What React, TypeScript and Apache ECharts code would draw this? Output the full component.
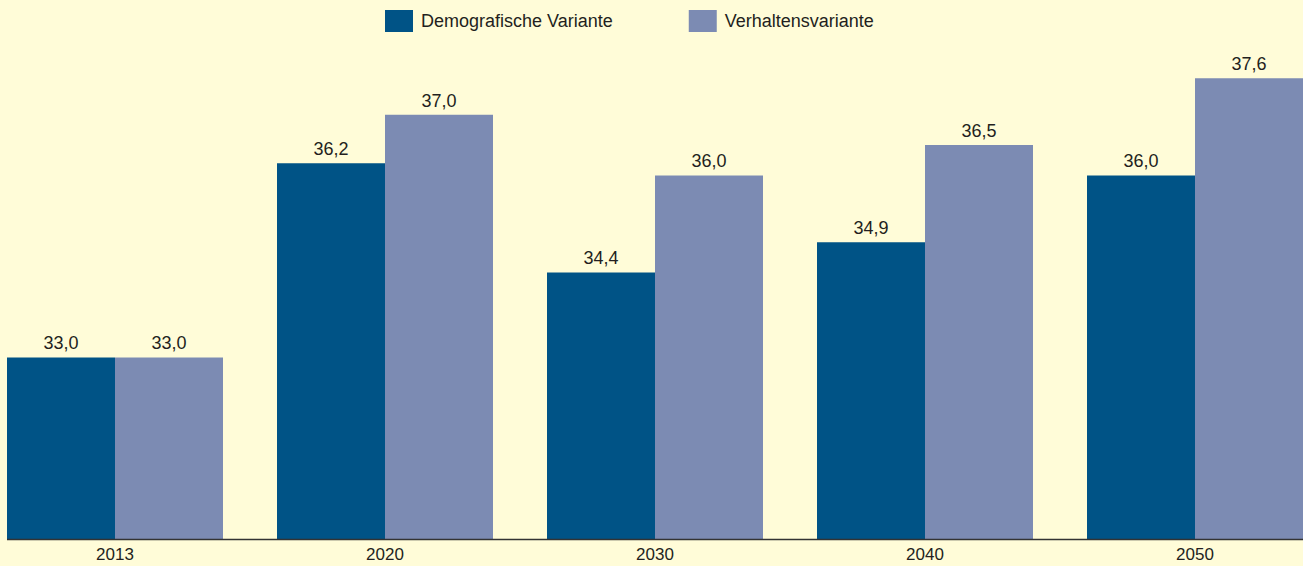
import React, { useEffect, useRef } from "react";
import * as echarts from "echarts";

const categories = ["2013", "2020", "2030", "2040", "2050"];
const demografisch = [33.0, 36.2, 34.4, 34.9, 36.0];
const verhalten = [33.0, 37.0, 36.0, 36.5, 37.6];
const seriesNames = ["Demografische Variante", "Verhaltensvariante"];

const FONT = "'Liberation Sans', Arial, sans-serif";
const fmt = (p: any) => Number(p.value).toFixed(1).replace(".", ",");

export default function App() {
  const ref = useRef<HTMLDivElement>(null);
  useEffect(() => {
    if (!ref.current) return;
    const chart = echarts.init(ref.current, null, { renderer: "svg" });
    const label = {
      show: true,
      position: "top",
      distance: 5,
      color: "#231f20",
      fontSize: 18,
      fontFamily: FONT,
      formatter: fmt,
    };
    chart.setOption({
      animation: false,
      backgroundColor: "#fffcd8",
      textStyle: { fontFamily: FONT },
      legend: {
        top: 10,
        left: 405,
        padding: 0,
        itemWidth: 28,
        itemHeight: 22,
        itemGap: 76,
        icon: "rect",
        textStyle: { fontSize: 18, color: "#231f20", fontFamily: FONT, padding: [0, 0, 0, 3] },
        data: seriesNames,
      },
      grid: { left: 0, right: 0, top: 54, bottom: 26.5, containLabel: false },
      xAxis: {
        type: "category",
        data: categories,
        axisLine: { show: false },
        axisTick: { show: false },
        axisLabel: { color: "#231f20", fontSize: 17, fontFamily: FONT, margin: 6 },
      },
      yAxis: {
        type: "value",
        min: 30,
        max: 38,
        show: false,
        splitLine: { show: false },
      },
      graphic: [
        {
          type: "line",
          shape: { x1: 27, y1: 539.5, x2: 1323, y2: 539.5 },
          style: { stroke: "#333333", lineWidth: 1.5 },
          z: 100,
        },
      ],
      series: [
        {
          name: seriesNames[0],
          type: "bar",
          data: demografisch,
          itemStyle: { color: "#005386" },
          barGap: "0%",
          barCategoryGap: "20%",
          label,
        },
        {
          name: seriesNames[1],
          type: "bar",
          data: verhalten,
          itemStyle: { color: "#7c8bb3" },
          barGap: "0%",
          barCategoryGap: "20%",
          label,
        },
      ],
    });
    return () => chart.dispose();
  }, []);
  return (
    <div
      style={{
        position: "absolute",
        left: 0,
        top: 0,
        width: 1303,
        height: 566,
        overflow: "hidden",
        background: "#fffcd8",
      }}
    >
      <div
        ref={ref}
        style={{ position: "absolute", left: -20, top: 0, width: 1350, height: 566 }}
      />
    </div>
  );
}
